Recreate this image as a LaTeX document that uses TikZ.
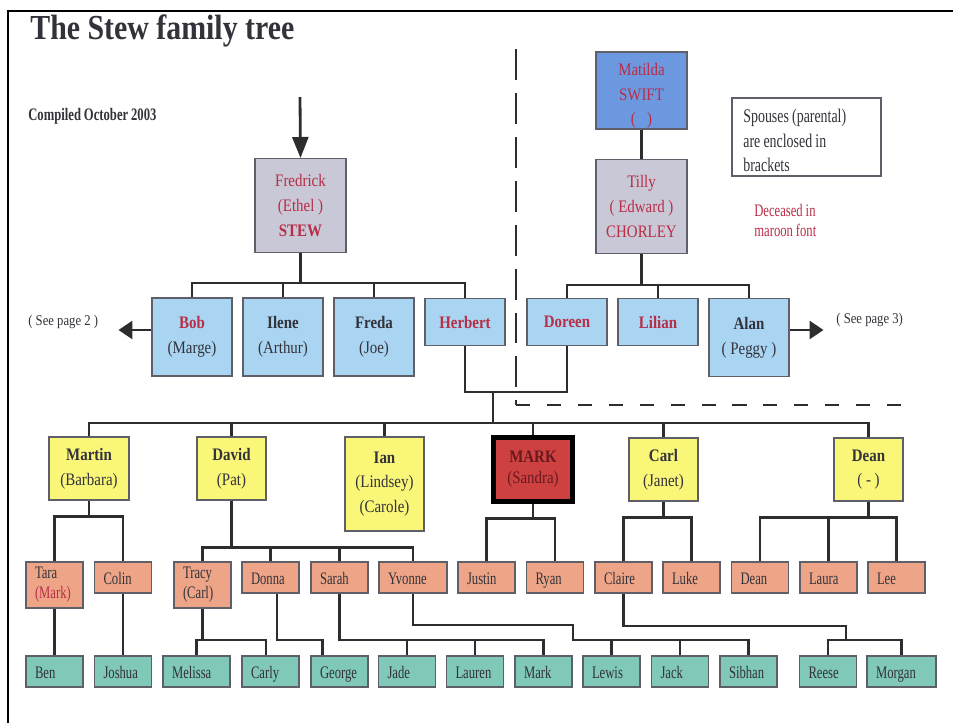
\documentclass[tikz,border=0pt]{standalone}
\usepackage{fontspec}
\setmainfont{Liberation Serif}[FakeStretch=0.85]
\newfontfamily\narrowfont{Liberation Serif}[FakeStretch=0.72, WordSpace=0.92]
\usetikzlibrary{arrows.meta}
\definecolor{stewInk}{RGB}{50,50,58}
\definecolor{stewLink}{RGB}{45,45,48}
\definecolor{stewEdge}{RGB}{95,95,105}
\definecolor{stewMaroon}{RGB}{185,45,70}
\definecolor{stewGrey}{RGB}{200,200,214}
\definecolor{stewBlue}{RGB}{108,152,224}
\definecolor{stewSky}{RGB}{170,213,242}
\definecolor{stewYellow}{RGB}{250,246,120}
\definecolor{stewRed}{RGB}{205,65,65}
\definecolor{stewDarkRed}{RGB}{105,25,30}
\definecolor{stewSalmon}{RGB}{238,165,135}
\definecolor{stewTeal}{RGB}{128,200,184}
\tikzset{
  person/.style={draw=stewEdge, line width=0.6pt, inner sep=0pt, align=center, text=stewInk,
    font=\fontsize{10}{14}\selectfont},
  elder/.style={person, fill=stewGrey, minimum width=1.82cm, minimum height=1.88cm},
  sibling/.style={person, fill=stewSky, minimum width=1.6cm, minimum height=1.56cm},
  child/.style={person, fill=stewYellow, minimum width=1.38cm, minimum height=1.26cm},
  grandbox/.style={person, fill=stewSalmon, minimum height=0.62cm, inner xsep=0.18cm,
    text width=0.78cm, align=left, font=\narrowfont\fontsize{10}{11.5}\selectfont},
  grandkid/.style={grandbox, text height=8pt, text depth=0pt},
  greatkid/.style={grandkid, fill=stewTeal},
  note/.style={inner sep=0pt, text=stewInk},
  link/.style={draw=stewLink, line width=1.6pt},
  pointer/.style={link, -{Triangle[length=0.28cm, width=0.36cm]}},
}
\begin{document}
\begin{tikzpicture}
\begin{scope}[x=0.02cm, y=-0.02cm]
  \useasboundingbox (0,0) rectangle (953,723);
  % Page frame
  \draw[black, line width=1.7pt] (8,723) -- (8,11) -- (953,11);
  % Headings and notes
  \node[note, anchor=base west, font=\bfseries\fontsize{20}{24}\selectfont] (title) at (30,40) {The Stew family tree};
  \node[note, anchor=base west, font=\narrowfont\bfseries\fontsize{10}{12}\selectfont] (compiled) at (28,120) {Compiled October 2003};
  \node[draw=stewEdge, line width=0.6pt, minimum width=2.98cm, minimum height=1.56cm] (legend) at (806.5,137) {};
  \node[note, anchor=north west, align=left, font=\narrowfont\fontsize{11}{14}\selectfont] (legendnote) at (743,109)
    {Spouses (parental)\\are enclosed in\\brackets};
  \node[note, anchor=north west, align=left, text=stewMaroon, font=\narrowfont\fontsize{10}{11.5}\selectfont] (deceased) at (754,204)
    {Deceased in\\maroon font};
  \node[note, anchor=base west, font=\fontsize{8.5}{10}\selectfont] (page2) at (28,325) {( See page 2 )};
  \node[note, anchor=base west, font=\fontsize{8.5}{10}\selectfont] (page3) at (836,323) {( See page 3)};
  % Divider between the two sides
  \draw[link, dash pattern=on 17.6pt off 7.4pt] (516,49) -- (516,405);
  \draw[link, dash pattern=on 8pt off 9.6pt] (516,405) -- (912,405);
  % Elders
  \node[elder, text=stewMaroon] (fredrick) at (300.5,205.5) {Fredrick\\(Ethel )\\\textbf{STEW}};
  \node[elder, fill=stewBlue, minimum height=1.54cm, text=stewMaroon] (matilda) at (641.5,90.5) {\rule{0pt}{1.3em}Matilda\\SWIFT\\(\ \ \ )};
  \node[elder, text=stewMaroon] (tilly) at (641.5,206.5) {Tilly\\( Edward )\\CHORLEY};
  % Their children
  \node[sibling] (bob) at (192,337) {\textcolor{stewMaroon}{\textbf{Bob}}\\(Marge)};
  \node[sibling] (ilene) at (283,337) {\textbf{Ilene}\\(Arthur)};
  \node[sibling] (freda) at (374,337) {\textbf{Freda}\\(Joe)};
  \node[sibling, minimum height=0.94cm, text=stewMaroon] (herbert) at (465,322) {\textbf{Herbert}};
  \node[sibling, minimum height=0.94cm, text=stewMaroon] (doreen) at (567,322) {\textbf{Doreen}};
  \node[sibling, minimum height=0.94cm, text=stewMaroon] (lilian) at (658,322) {\textbf{Lilian}};
  \node[sibling] (alan) at (749,337.5) {\textbf{Alan}\\( Peggy )};
  % Herbert and Doreen's children
  \node[child, minimum width=1.6cm] (martin) at (89,468.5) {\textbf{Martin}\\(Barbara)};
  \node[child] (david) at (231.5,468.5) {\textbf{David}\\(Pat)};
  \node[child, minimum width=1.58cm, minimum height=1.88cm] (ian) at (384.5,484) {\textbf{Ian}\\(Lindsey)\\(Carole)};
  \node[child, fill=stewRed, draw=black, line width=2.6pt, minimum width=1.58cm, minimum height=1.28cm,
    text=stewDarkRed, font=\fontsize{10}{12}\selectfont] (mark) at (533,469.5) {\textbf{MARK}\\(Sandra)};
  \node[child] (carl) at (663.5,469.5) {\textbf{Carl}\\(Janet)};
  \node[child] (dean) at (868.5,469.5) {\textbf{Dean}\\( - )};
  % Grandchildren
  \node[grandbox, minimum height=0.92cm] (tara) at (54.5,585) {Tara\\\textcolor{stewMaroon}{(Mark)}};
  \node[grandkid] (colin) at (123,577.5) {Colin};
  \node[grandbox, minimum height=0.92cm] (tracy) at (202.5,585) {Tracy\\(Carl)};
  \node[grandkid] (donna) at (270.5,577.5) {Donna};
  \node[grandkid] (sarah) at (339.5,577.5) {Sarah};
  \node[grandkid, text width=1cm] (yvonne) at (413,577.5) {Yvonne};
  \node[grandkid] (justin) at (486.5,577.5) {Justin};
  \node[grandkid] (ryan) at (555,577.5) {Ryan};
  \node[grandkid] (claire) at (623.5,577.5) {Claire};
  \node[grandkid] (luke) at (691.5,577.5) {Luke};
  \node[grandkid] (deanjr) at (760,577.5) {Dean};
  \node[grandkid] (laura) at (828.5,577.5) {Laura};
  \node[grandkid] (lee) at (896.5,577.5) {Lee};
  % Great-grandchildren
  \node[greatkid] (ben) at (54.5,671.5) {Ben};
  \node[greatkid] (joshua) at (123,671.5) {Joshua};
  \node[greatkid, text width=0.98cm] (melissa) at (196.5,671.5) {Melissa};
  \node[greatkid] (carly) at (270.5,671.5) {Carly};
  \node[greatkid] (george) at (339.5,671.5) {George};
  \node[greatkid] (jade) at (407,671.5) {Jade};
  \node[greatkid] (lauren) at (475,671.5) {Lauren};
  \node[greatkid] (markjr) at (543.5,671.5) {Mark};
  \node[greatkid] (lewis) at (611.5,671.5) {Lewis};
  \node[greatkid] (jack) at (680,671.5) {Jack};
  \node[greatkid] (sibhan) at (748.5,671.5) {Sibhan};
  \node[greatkid] (reese) at (828,671.5) {Reese};
  \node[greatkid, text width=1.02cm] (morgan) at (901.5,671.5) {Morgan};
  % Arrows to other pages
  \coordinate (ancestry) at (300,97);
  \draw[pointer, -{Triangle[length=0.42cm, width=0.32cm]}] (ancestry) -- (fredrick.north);
  \draw[pointer] (bob.west |- 0,330) -- ++(-33,0);
  \draw[pointer] (alan.east |- 0,330) -- ++(34,0);
  % Fredrick's family
  \draw[link] (fredrick.south) -- ++(0,30) coordinate (fbus);
  \draw[link] (bob.north) |- (herbert.north |- fbus) -- (herbert.north);
  \draw[link] (ilene.north) -- (ilene.north |- fbus);
  \draw[link] (freda.north) -- (freda.north |- fbus);
  % Tilly's family
  \draw[link] (matilda.south) -- (tilly.north);
  \draw[link] (tilly.south) -- ++(0,31) coordinate (tbus);
  \draw[link] (doreen.north) |- (alan.north |- tbus) -- (alan.north);
  \draw[link] (lilian.north) -- (lilian.north |- tbus);
  % Herbert and Doreen
  \coordinate (wed) at (493,392);
  \coordinate (kids) at (493,423);
  \draw[link] (herbert.south) |- (wed) -| (doreen.south);
  \draw[link] (wed) -- (kids);
  \draw[link] (martin.north) |- (dean.north |- kids) -- (dean.north);
  \draw[link] (david.north) -- (david.north |- kids);
  \draw[link] (ian.north) -- (ian.north |- kids);
  \draw[link] (mark.north) -- (mark.north |- kids);
  \draw[link] (carl.north) -- (carl.north |- kids);
  % Grandchildren links
  \draw[link] (martin.south) -- ++(0,16) coordinate (mbus);
  \draw[link] (tara.north) |- (colin.north |- mbus) -- (colin.north);
  \draw[link] (david.south) -- ++(0,47) coordinate (dbus);
  \draw[link] (tracy.north) |- (yvonne.north |- dbus) -- (yvonne.north);
  \draw[link] (donna.north) -- (donna.north |- dbus);
  \draw[link] (sarah.north) -- (sarah.north |- dbus);
  \draw[link] (mark.south) -- ++(0,15) coordinate (kbus);
  \draw[link] (justin.north) |- (ryan.north |- kbus) -- (ryan.north);
  \draw[link] (carl.south) -- ++(0,16) coordinate (cbus);
  \draw[link] (claire.north) |- (luke.north |- cbus) -- (luke.north);
  \draw[link] (dean.south) -- ++(0,16) coordinate (ebus);
  \draw[link] (deanjr.north) |- (lee.north |- ebus) -- (lee.north);
  \draw[link] (laura.north) -- (laura.north |- ebus);
  % Great-grandchildren links
  \coordinate (sbus) at (0,640);
  \coordinate (carlyin) at ([xshift=-0.09cm]carly.north);
  \coordinate (donnaout) at ([xshift=0.13cm]donna.south);
  \coordinate (georgein) at ([xshift=-0.34cm]george.north);
  \coordinate (yturn) at (573,625);
  \coordinate (cturn) at (846,626);
  \draw[link] (tara.south) -- (ben.north);
  \draw[link] (colin.south) -- (joshua.north);
  \draw[link] (tracy.south) -- (tracy.south |- sbus);
  \draw[link] (melissa.north) |- (carlyin |- sbus) -- (carlyin);
  \draw[link] (donnaout) |- (georgein |- sbus) -- (georgein);
  \draw[link] (sarah.south) |- (markjr.north |- sbus) -- (markjr.north);
  \draw[link] (jade.north) -- (jade.north |- sbus);
  \draw[link] (lauren.north) -- (lauren.north |- sbus);
  \draw[link] (yvonne.south) |- (yturn) |- (sibhan.north |- sbus) -- (sibhan.north);
  \draw[link] (lewis.north) -- (lewis.north |- sbus);
  \draw[link] (jack.north) -- (jack.north |- sbus);
  \draw[link] (claire.south) |- (cturn) -- (cturn |- sbus);
  \draw[link] (reese.north) |- (morgan.north |- sbus) -- (morgan.north);
\end{scope}
\end{tikzpicture}
\end{document}
